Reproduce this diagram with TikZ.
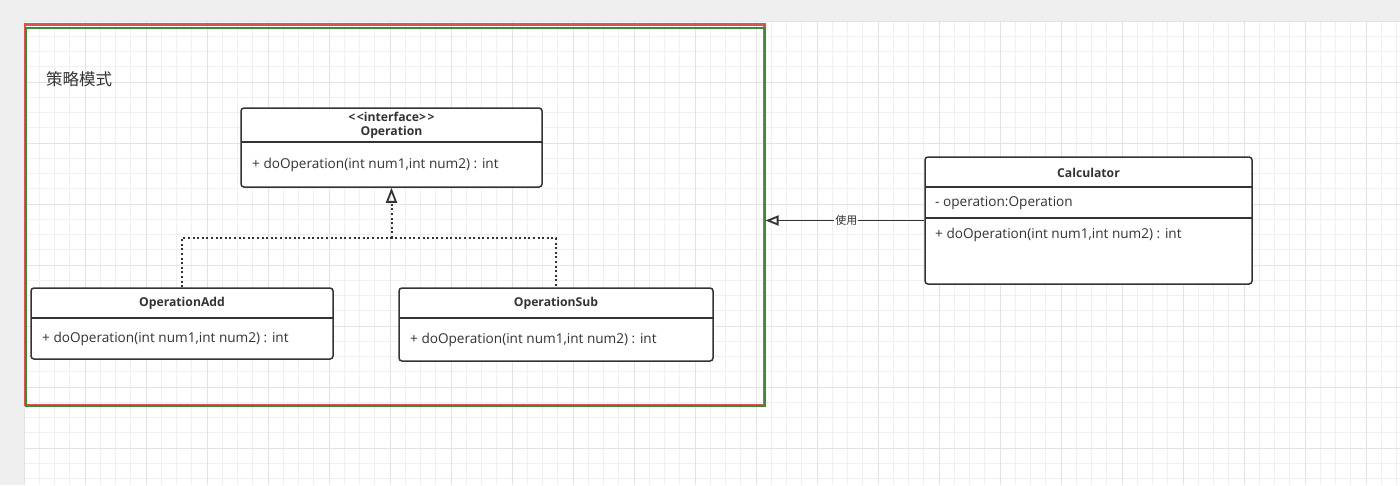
\documentclass[tikz,border=0pt]{standalone}
\usepackage{fontspec}
\setmainfont{Open Sans}
\newfontfamily\cjk{Noto Sans CJK SC}
\usetikzlibrary{arrows.meta}
\definecolor{txt}{HTML}{333333}
\definecolor{linec}{HTML}{333333}
\definecolor{bggray}{HTML}{EFEFEF}
\definecolor{minorg}{HTML}{F0F0F0}
\definecolor{majorg}{HTML}{E3E3E3}
\definecolor{framegreen}{HTML}{3F8A37}
\definecolor{framered}{HTML}{D9534F}
\tikzset{
  classbox/.style={draw=linec, line width=1.5pt, rounded corners=3pt, fill=white, inner sep=0pt},
  divider/.style={draw=linec, line width=1.5pt},
  ctitle/.style={font=\bfseries\fontsize{12.2}{14}\selectfont, text=txt, inner sep=0pt},
  member/.style={font=\fontsize{13.6}{15}\selectfont, text=txt, anchor=west, inner sep=0pt},
  dotline/.style={draw=linec, line width=2pt, dash pattern=on 2pt off 2.6pt},
  realize/.style={draw=linec, line width=2pt, dash pattern=on 2pt off 2.6pt,
     -{Triangle[open, length=15pt, width=11pt, line width=1.8pt]}},
  uses/.style={draw=linec, line width=1.8pt, -{Triangle[open, length=13pt, width=10pt, line width=1.8pt]}},
  minorline/.style={draw=minorg, line width=0.8pt},
  majorline/.style={draw=majorg, line width=0.9pt}
}
\begin{document}
\begin{tikzpicture}[x=1pt,y=-1pt]
\useasboundingbox (0,0) rectangle (1400,485);
\fill[bggray] (0,0) rectangle (1400,485);
\fill[white] (24,21) rectangle (1400,485);
% grid
\foreach \i in {0,...,90} {
  \pgfmathsetmacro\xx{24+\i*15.25}
  \draw[minorline] (\xx,21) -- (\xx,485);
}
\foreach \i in {0,...,30} {
  \pgfmathsetmacro\yy{21+\i*15.25}
  \draw[minorline] (24,\yy) -- (1400,\yy);
}
\foreach \i in {0,...,23} {
  \pgfmathsetmacro\xx{24+\i*61}
  \draw[majorline] (\xx,21) -- (\xx,485);
}
\foreach \i in {0,...,8} {
  \pgfmathsetmacro\yy{21+\i*61}
  \draw[majorline] (24,\yy) -- (1400,\yy);
}
% frame
\draw[framered, line width=2.2pt] (25,24.5) rectangle (764.5,405);
\node[draw=framegreen, line width=2pt, minimum width=739pt, minimum height=378pt, inner sep=0pt] (frame) at (395,216.5) {};
\node[anchor=west, inner sep=0pt, text=txt, font=\cjk\fontsize{16.5}{18}\selectfont] (title) at (46,79) {策略模式};

% interface Operation
\node[classbox, minimum width=301pt, minimum height=79pt] (op) at (391.5,147.5) {};
\draw[divider] (241,142) -- (542,142);
\node[ctitle] (opst) at (391.5,117) {<\kern1.5pt<interface>\kern1.5pt>};
\node[ctitle] (opname) at (391.5,132) {Operation};
\node[member] (opm) at (252,165) {+ doOperation(int num1,int num2) : int};

% OperationAdd
\node[classbox, minimum width=302pt, minimum height=71pt] (add) at (182,323.5) {};
\draw[divider] (31,318) -- (333,318);
\node[ctitle] (addname) at (182,303) {OperationAdd};
\node[member] (addm) at (42,339) {+ doOperation(int num1,int num2) : int};

% OperationSub
\node[classbox, minimum width=314pt, minimum height=73pt] (sub) at (556,324.5) {};
\draw[divider] (399,318) -- (713,318);
\node[ctitle] (subname) at (556,303) {OperationSub};
\node[member] (subm) at (410,340) {+ doOperation(int num1,int num2) : int};

% Calculator
\node[classbox, minimum width=327pt, minimum height=127pt] (calc) at (1088.5,220.5) {};
\draw[divider] (925,187) -- (1252,187);
\draw[divider] (925,218) -- (1252,218);
\node[ctitle] (calcname) at (1088.5,173) {Calculator};
\node[member] (calcattr) at (935,203) {- operation:Operation};
\node[member] (calcm) at (935,235) {+ doOperation(int num1,int num2) : int};

% realization connectors
\coordinate (j) at (391.5,238);
\draw[dotline] (add.north) |- (j) -| (sub.north);
\draw[realize] (j) -- (op.south);

% uses connector
\draw[uses] (calc.west) -- (calc.west -| frame.east)
  node[pos=0.49, fill=white, inner sep=1pt, text=txt, font=\cjk\fontsize{11}{13}\selectfont] (uselbl) {使用};
\end{tikzpicture}
\end{document}
